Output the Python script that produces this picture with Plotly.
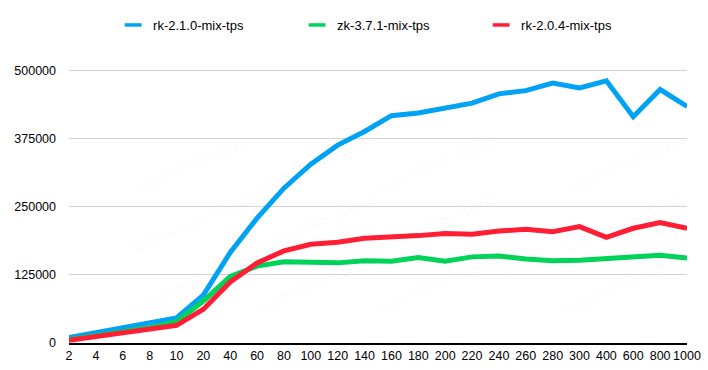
import plotly.graph_objects as go

categories = ["2", "4", "6", "8", "10", "20", "40", "60", "80", "100", "120", "140",
              "160", "180", "200", "220", "240", "260", "280", "300", "400", "600", "800", "1000"]

rk210 = [10000, 19000, 27000, 36000, 46000, 88000, 166000, 229000, 284000, 328000, 363000, 388000,
         417000, 422000, 430000, 440000, 457000, 463000, 477000, 468000, 481000, 415000, 465000, 434000]
zk371 = [6000, 14000, 21000, 28000, 39000, 77000, 122000, 141000, 149000, 147000, 147000, 151000,
         150000, 157000, 150000, 158000, 159500, 154000, 151000, 152000, 155000, 156000, 161000, 156000]
rk204 = [5000, 12000, 17500, 24000, 32500, 62000, 112000, 147000, 169000, 181000, 185000, 192000,
         194000, 197000, 201000, 199500, 205500, 208500, 204000, 213500, 194000, 210500, 221000, 210500]

series = [
    ("rk-2.1.0-mix-tps", rk210, "#00A2F4"),
    ("zk-3.7.1-mix-tps", zk371, "#00D35A"),
    ("rk-2.0.4-mix-tps", rk204, "#FF1E34"),
]

yticks = [0, 125000, 250000, 375000, 500000]

FONT = "Liberation Sans, Arial, Helvetica, sans-serif"

fig = go.Figure()
for name, vals, color in series:
    fig.add_trace(go.Scatter(x=categories, y=vals, mode="lines", name=name,
                             line=dict(color=color, width=5), showlegend=False,
                             legendgroup=name, cliponaxis=False))
for name, vals, color in series:
    fig.add_trace(go.Scatter(x=[None], y=[None], mode="markers", name=name,
                             marker=dict(symbol="line-ew", size=12, color=color,
                                         line=dict(color=color, width=3.5)),
                             legendgroup=name, showlegend=True))

# faint watermark text
wm_x = [67, 282, 497, 712]
wm_y = [83, 210, 337]
for yy in wm_y:
    for xx in wm_x:
        fig.add_annotation(text="wujianchao5-719213", x=xx / 708, y=1 - yy / 370,
                           xref="paper", yref="paper", showarrow=False, textangle=-23,
                           font=dict(family=FONT, size=14, color="rgba(0,0,0,0.035)"))

fig.update_layout(
    width=708, height=370,
    margin=dict(l=69, r=21, t=65, b=27, autoexpand=False),
    paper_bgcolor="white", plot_bgcolor="white",
    font=dict(family=FONT, size=12, color="black"),
    legend=dict(orientation="h", x=0.518, xanchor="center", y=1 - 25 / 370, yanchor="middle",
                yref="container", entrywidth=139, entrywidthmode="pixels", itemwidth=30,
                font=dict(family=FONT, size=13, color="black")),
    xaxis=dict(type="category", range=[0, len(categories) - 1], showgrid=False,
               showline=True, linecolor="black", linewidth=2, ticks="",
               tickfont=dict(size=12.5), zeroline=False, automargin=False),
    yaxis=dict(range=[0, 510000], tickvals=yticks, ticktext=[str(v) for v in yticks],
               showgrid=True, gridcolor="#D3D3D3", gridwidth=1, zeroline=False,
               showline=False, ticks="", ticklabelstandoff=12, tickfont=dict(size=12.5),
               automargin=False),
)

fig.write_html("out.html", config={"displayModeBar": False},
               post_script="document.body.style.margin='0px';document.body.style.overflow='hidden';")
